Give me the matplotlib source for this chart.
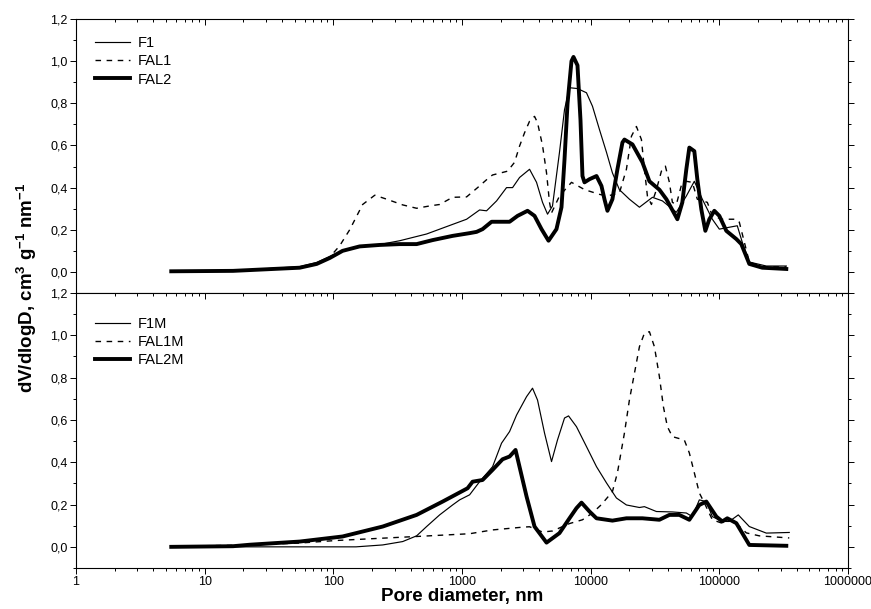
import matplotlib
matplotlib.use("Agg")
import matplotlib.pyplot as plt
from matplotlib.ticker import FuncFormatter, LogLocator, MultipleLocator, NullFormatter
from matplotlib import font_manager

# ---------------- data (pore diameter in nm, dV/dlogD) ----------------
f1_d = [5.5, 16.6, 54.8, 74.3, 98.9, 134, 160, 229, 328, 531, 759, 1086, 1370, 1552, 1857,
        2219, 2472, 2801, 3350, 3796, 4225, 4621, 5051, 5722, 6263, 6844, 7898, 9277, 10330,
        11710, 13280, 14760, 16730, 20000, 23930, 30200, 36100, 46350, 55400, 63920, 73760,
        88240, 100000, 119500, 137900, 150900, 171000, 231700, 331500]
f1_v = [0.003, 0.006, 0.025, 0.045, 0.08, 0.11, 0.12, 0.13, 0.148, 0.18, 0.215, 0.25, 0.294, 0.29, 0.337,
        0.40, 0.40, 0.448, 0.487, 0.425, 0.33, 0.274, 0.313, 0.567, 0.77, 0.874, 0.87, 0.85, 0.786,
        0.675, 0.567, 0.47, 0.39, 0.345, 0.307, 0.354, 0.337, 0.283, 0.36, 0.43, 0.345,
        0.25, 0.203, 0.212, 0.219, 0.14, 0.047, 0.028, 0.028]

fal1_d = [5.5, 16.6, 54.8, 74.3, 93.7, 112, 134, 169, 210, 260, 346, 444, 560, 670, 845, 1086,
          1322, 1638, 1729, 2260, 2561, 2801, 3062, 3350, 3662, 3864, 4225, 4539, 4787, 4963,
          5722, 7094, 9000, 11710, 13500, 16730, 18960, 20750, 22680, 24800, 26170, 27610,
          29660, 32430, 35460, 38080, 40910, 43160, 46350, 50650, 55400, 61670, 67440, 80690,
          88240, 105500, 135500, 143000, 171000, 215700, 331500]
fal1_v = [0.003, 0.005, 0.02, 0.04, 0.07, 0.124, 0.2, 0.32, 0.364, 0.345, 0.318, 0.302, 0.313, 0.32, 0.354, 0.356,
          0.40, 0.45, 0.46, 0.478, 0.52, 0.597, 0.66, 0.715, 0.738, 0.708, 0.6, 0.47, 0.33, 0.28,
          0.36, 0.425, 0.39, 0.368, 0.36, 0.375, 0.487, 0.644, 0.69, 0.628, 0.487, 0.36,
          0.32, 0.39, 0.478, 0.502, 0.425, 0.33, 0.32, 0.41, 0.43, 0.425, 0.345, 0.33,
          0.266, 0.25, 0.25, 0.236, 0.047, 0.024, 0.024]

fal2_d = [5.5, 16.6, 54.8, 74.3, 93.7, 118, 160, 229, 328, 444, 591, 845, 1146, 1298, 1445, 1698,
          2343, 2704, 3231, 3662, 4150, 4705, 5422, 5933, 6263, 6611, 7094, 7352, 7898, 8336,
          8636, 8953, 9795, 11100, 12130, 12800, 13500, 14760, 16140, 17660, 18300, 21130,
          25250, 28620, 34210, 38770, 47200, 51570, 55400, 58450, 63920, 67440, 72440, 77850,
          83630, 91450, 100000, 113300, 135500, 148200, 171000, 215700, 331500]
fal2_v = [0.003, 0.005, 0.02, 0.038, 0.066, 0.1, 0.121, 0.128, 0.132, 0.132, 0.151, 0.171, 0.184, 0.19, 0.203, 0.238,
          0.238, 0.266, 0.29, 0.266, 0.203, 0.148, 0.203, 0.307, 0.534, 0.80, 1.0, 1.02, 0.98, 0.72,
          0.455, 0.425, 0.44, 0.455, 0.408, 0.345, 0.29, 0.345, 0.487, 0.614, 0.628, 0.605,
          0.52, 0.43, 0.39, 0.345, 0.25, 0.33, 0.487, 0.59, 0.573, 0.44, 0.297, 0.195,
          0.25, 0.29, 0.266, 0.195, 0.156, 0.132, 0.038, 0.02, 0.014]

f1m_d = [5.5, 150, 242, 346, 444, 531, 670, 845, 958, 1146, 1370, 1729, 2029, 2343, 2655, 3175,
         3533, 3864, 4379, 4963, 5521, 6263, 6731, 7758, 9277, 11100, 13280, 15850, 18960,
         23930, 26170, 32430, 43160, 55400, 61670, 69900, 79240, 88240, 105500, 119500,
         140400, 171000, 231700, 349500]
f1m_v = [0.0, 0.0, 0.009, 0.025, 0.052, 0.096, 0.151, 0.198, 0.222, 0.246, 0.308, 0.379, 0.49, 0.545, 0.623, 0.71,
         0.75, 0.694, 0.538, 0.403, 0.505, 0.609, 0.619, 0.568, 0.474, 0.379, 0.302, 0.231, 0.198,
         0.186, 0.19, 0.167, 0.165, 0.16, 0.143, 0.222, 0.214, 0.143, 0.12, 0.12,
         0.151, 0.096, 0.065, 0.068]

fal1m_d = [5.5, 20, 55, 105, 444, 1146, 1729, 2954, 3350, 4225, 5051, 6844, 8636, 10330, 12130,
           14760, 16140, 18300, 20000, 21880, 23930, 26170, 28620, 31290, 34210, 36740, 39470,
           43160, 53450, 58450, 63920, 69900, 76450, 88240, 103600, 126100, 162100, 204500, 349500]
fal1m_v = [0.003, 0.008, 0.018, 0.03, 0.049, 0.062, 0.08, 0.093, 0.095, 0.07, 0.075, 0.11, 0.128, 0.16, 0.2,
           0.261, 0.35, 0.538, 0.694, 0.82, 0.946, 1.01, 1.017, 0.946, 0.805, 0.663, 0.568,
           0.521, 0.505, 0.444, 0.35, 0.255, 0.208, 0.128, 0.113, 0.128, 0.066, 0.052, 0.042]

fal2m_d = [5.5, 16.6, 22.4, 54.8, 118, 242, 444, 707, 1105, 1209, 1445, 1729, 2066, 2343, 2607,
           3175, 3662, 4539, 5722, 6844, 7758, 8486, 9795, 11100, 14760, 18960, 25250, 34210,
           40910, 48870, 58450, 69900, 79240, 94800, 105500, 115300, 135500, 171000, 331500]
fal2m_v = [0.0, 0.003, 0.01, 0.025, 0.049, 0.096, 0.151, 0.214, 0.277, 0.308, 0.316, 0.364, 0.414, 0.427, 0.458,
           0.238, 0.096, 0.02, 0.065, 0.135, 0.183, 0.209, 0.167, 0.135, 0.124, 0.135, 0.135, 0.128,
           0.151, 0.151, 0.128, 0.198, 0.214, 0.143, 0.12, 0.135, 0.112, 0.009, 0.005]

top_labels = ["F1", "FAL1", "FAL2"]
bottom_labels = ["F1M", "FAL1M", "FAL2M"]
x_ticks = [1, 10, 100, 1000, 10000, 100000, 1000000]
y_ticks = [0.0, 0.2, 0.4, 0.6, 0.8, 1.0, 1.2]

# ---------------- fonts ----------------
names = {f.name for f in font_manager.fontManager.ttflist}
base = "Liberation Sans" if "Liberation Sans" in names else "DejaVu Sans"
narrow = "Liberation Sans Narrow" if "Liberation Sans Narrow" in names else base
plt.rcParams['font.family'] = [base, 'DejaVu Sans']
plt.rcParams['mathtext.fontset'] = 'custom'
plt.rcParams['mathtext.rm'] = base
plt.rcParams['mathtext.bf'] = base + ':bold'

W, H = 871, 609
fig = plt.figure(figsize=(W / 100, H / 100), dpi=100)
left, right = 76 / W, 848 / W
y_top, y_mid, y_bot = 1 - 19 / H, 1 - 293 / H, 1 - 568 / H
ax1 = fig.add_axes([left, y_mid, right - left, y_top - y_mid])
ax2 = fig.add_axes([left, y_bot, right - left, y_mid - y_bot])

thin = dict(color='black', lw=0.85)
dash = dict(color='black', lw=1.0, dashes=(4, 4))
thick = dict(color='black', lw=2.8)

ax1.plot(f1_d, f1_v, label=top_labels[0], **thin)
ax1.plot(fal1_d, fal1_v, label=top_labels[1], **dash)
ax1.plot(fal2_d, fal2_v, label=top_labels[2], **thick)

ax2.plot(f1m_d, f1m_v, label=bottom_labels[0], **thin)
ax2.plot(fal1m_d, fal1m_v, label=bottom_labels[1], **dash)
ax2.plot(fal2m_d, fal2m_v, label=bottom_labels[2], **thick)

fmt = FuncFormatter(lambda v, p: f"{v:.1f}".replace('.', ','))
for ax in (ax1, ax2):
    ax.set_xscale('log')
    ax.set_xlim(1, 1e6)
    ax.set_ylim(-0.1, 1.2)
    ax.set_yticks(y_ticks)
    ax.yaxis.set_minor_locator(MultipleLocator(0.1))
    ax.yaxis.set_major_formatter(fmt)
    ax.xaxis.set_major_locator(LogLocator(base=10, numticks=10))
    ax.xaxis.set_minor_locator(LogLocator(base=10, subs=range(2, 10), numticks=20))
    ax.xaxis.set_minor_formatter(NullFormatter())
    for s in ax.spines.values():
        s.set_linewidth(0.8)
    ax.tick_params(which='both', direction='out', width=0.7, labelsize=9, pad=2)
    ax.tick_params(which='major', length=4)
    ax.tick_params(which='minor', length=2.5)
    ax.tick_params(axis='y', which='both', right=True)
    ax.tick_params(axis='x', which='both', top=True)
    ax.legend(loc='upper left', frameon=False, fontsize=10.5, handlelength=2.4,
              handletextpad=0.55, labelspacing=0.3, borderaxespad=0,
              bbox_to_anchor=(0.0165, 0.96 if ax is ax1 else 0.935))

# top-edge ticks point into the panel
for ax in (ax1, ax2):
    for t in ax.xaxis.get_major_ticks() + ax.xaxis.get_minor_ticks():
        t.tick2line.set_marker(3)

ax1.tick_params(axis='x', labelbottom=False)
ax2.set_xticks(x_ticks)
ax2.set_xticklabels([str(t) for t in x_ticks], fontfamily=narrow, fontsize=9)

ax2.set_xlabel("Pore diameter, nm", fontsize=13.5, fontweight='bold', fontfamily=narrow, labelpad=0)
fig.text(27 / W, 1 - 288 / H,
         r"dV/dlogD, cm$^{\mathbf{3}}$ g$^{\mathbf{-1}}$ nm$^{\mathbf{-1}}$",
         rotation=90, ha='center', va='center', fontsize=13.5, fontweight='bold')

fig.savefig("out.png", dpi=100)
